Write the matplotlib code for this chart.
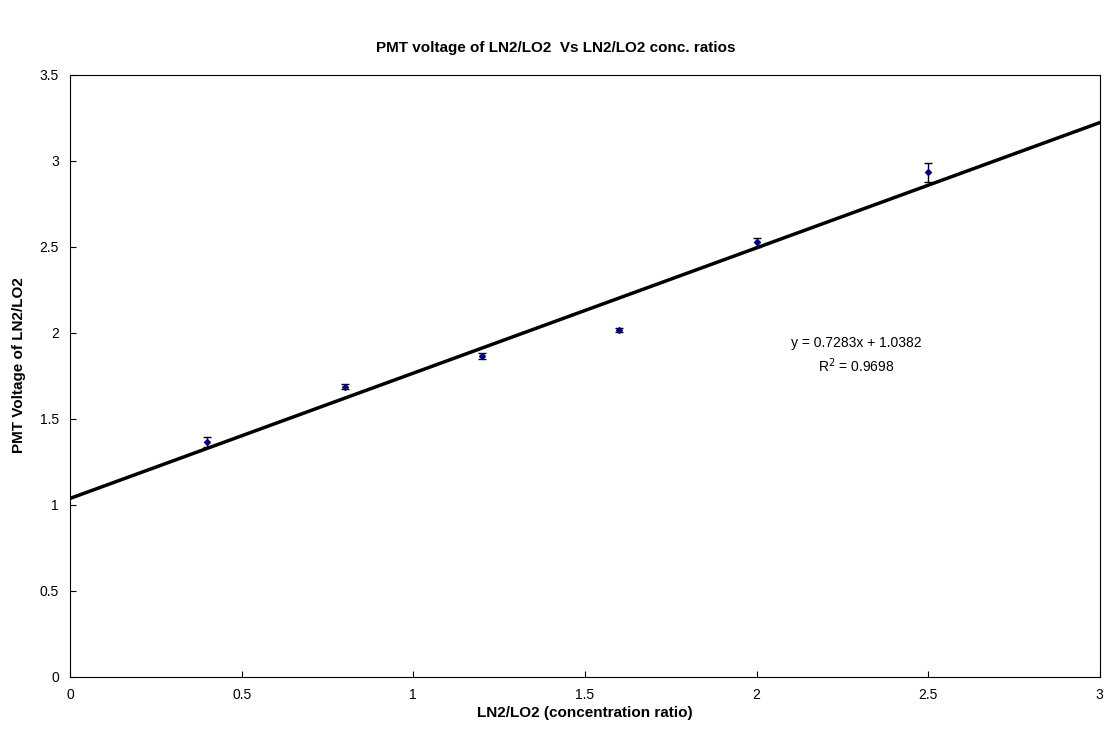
import numpy as np
import matplotlib
matplotlib.use("Agg")
import matplotlib.pyplot as plt

plt.rcParams['font.family'] = ['Liberation Sans', 'DejaVu Sans']

# data
ratio = [0.4, 0.8, 1.2, 1.6, 2.0, 2.5]
voltage = [1.366, 1.688, 1.868, 2.018, 2.528, 2.935]
err = [0.027, 0.016, 0.018, 0.012, 0.027, 0.055]

slope = 0.7283
intercept = 1.0382
r2 = 0.9698

fig = plt.figure(figsize=(11.12, 7.46), dpi=100)
ax = fig.add_axes([0.063, 0.0925, 0.926, 0.807])

# trend line
x_line = np.array([0, 3])
ax.plot(x_line, slope * x_line + intercept, color="black", lw=2.5, zorder=2)

ax.errorbar(ratio, voltage, yerr=err, fmt="D", color="black", ecolor="black",
            markerfacecolor="#000080", markeredgecolor="#000080", markersize=3,
            elinewidth=1, capsize=3, capthick=1, zorder=3)

ax.set_xlim(0, 3)
ax.set_ylim(0, 3.5)
ax.set_xticks(np.arange(0, 3.01, 0.5))
ax.set_xticklabels(["0", "0.5", "1", "1.5", "2", "2.5", "3"])
ax.set_yticks(np.arange(0, 3.51, 0.5))
ax.set_yticklabels(["0", "0.5", "1", "1.5", "2", "2.5", "3", "3.5"])
ax.tick_params(direction="in", length=4, labelsize=10, pad=8)

ax.set_xlabel("LN2/LO2 (concentration ratio)", fontsize=11, fontweight="bold")
ax.set_ylabel("PMT Voltage of LN2/LO2", fontsize=11, fontweight="bold")
ax.xaxis.set_label_coords(0.5, -0.048)
ax.yaxis.set_label_coords(-0.043, 0.518)
fig.suptitle("PMT voltage of LN2/LO2  Vs LN2/LO2 conc. ratios", fontsize=11,
             fontweight="bold", y=0.945)

ax.text(2.29, 1.94, f"y = {slope}x + {intercept}", ha="center", va="center", fontsize=10)
ax.text(2.29, 1.81, f"R$^2$ = {r2}", ha="center", va="center", fontsize=10)

fig.savefig("out.png", dpi=100)
